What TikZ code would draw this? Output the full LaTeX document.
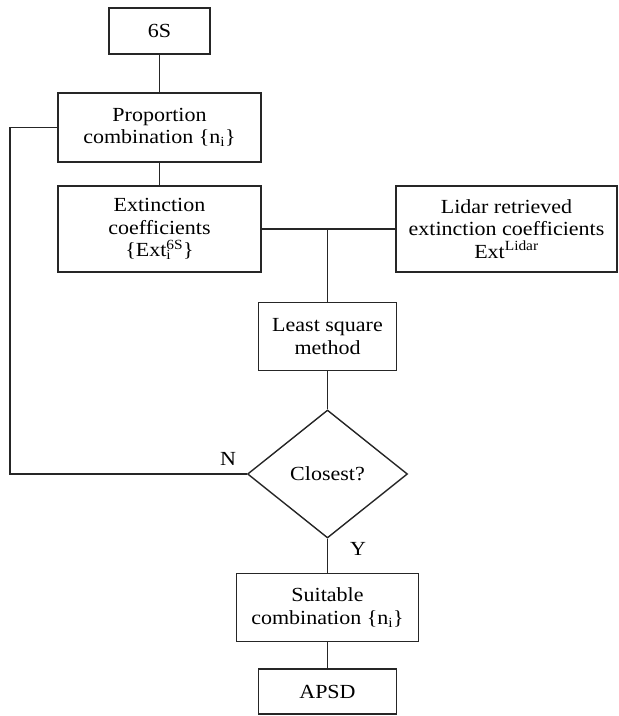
\documentclass[tikz,border=0pt]{standalone}
\usepackage{fontspec}
\setmainfont{Liberation Serif}[FakeStretch=1.1]
\usetikzlibrary{shapes.geometric}
\begin{document}
\begin{tikzpicture}[x=1pt,y=-1pt,
  every node/.style={font=\fontsize{20}{22.5}\selectfont, text=black},
  box/.style={draw=black!85, line width=1.4pt, fill=white, align=center, inner sep=0pt, minimum width=#1},
  conn/.style={draw=black!85, line width=1.4pt},
  lbl/.style={inner sep=0pt}]
\useasboundingbox (0,0) rectangle (619,716);
\node[box=101pt, minimum height=46pt] (sixs) at (159.5,31) {6S};
\node[box=203pt, minimum height=69pt] (prop) at (159.5,127.5) {Proportion\\combination \{n\textsubscript{i}\}};
\node[box=203pt, minimum height=86pt] (ext) at (159.5,229) {Extinction\\coefficients\\\{Ext\rlap{\textsubscript{i}}\textsuperscript{6S}\}};
\node[box=221pt, minimum height=86pt] (lidar) at (506.5,229) {Lidar retrieved\\extinction coefficients\\Ext\textsuperscript{Lidar}};
\node[box=138pt, minimum height=68pt] (lsm) at (327.5,336.5) {Least square\\method};
\node[draw=black!85, line width=1.4pt, diamond, aspect=1.25, inner sep=0pt, minimum width=160pt, minimum height=128pt] (dia) at (327.5,474) {Closest?};
\node[box=182pt, minimum height=68pt] (suit) at (327.5,607.5) {Suitable\\combination \{n\textsubscript{i}\}};
\node[box=138pt, minimum height=45pt] (apsd) at (327.5,691.5) {APSD};
\coordinate (fb) at (10,300);
\coordinate (j) at (lsm.north |- ext.east);
\node[lbl] (N) at (228,459) {N};
\node[lbl] (Y) at (358,549) {Y};
\draw[conn] (sixs.south) -- (prop.north);
\draw[conn] (prop.south) -- (ext.north);
\draw[conn] (ext.east) -- (lidar.west);
\draw[conn] (j) -- (lsm.north);
\draw[conn] (lsm.south) -- (dia.north);
\draw[conn] (dia.west) -| (fb) |- (prop.west);
\draw[conn] (dia.south) -- (suit.north);
\draw[conn] (suit.south) -- (apsd.north);
\end{tikzpicture}
\end{document}
